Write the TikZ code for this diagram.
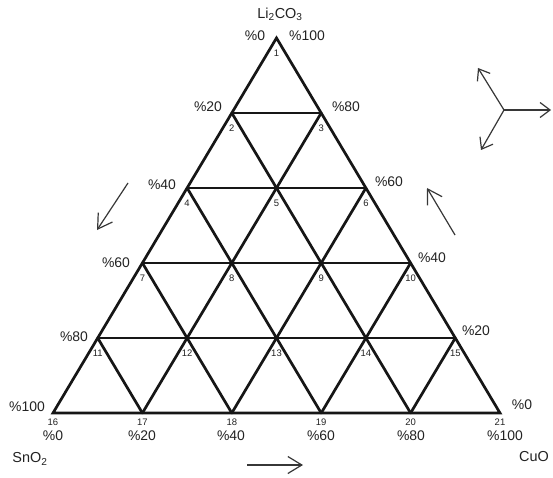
\documentclass[tikz,border=0pt]{standalone}
\usepackage{fontspec}
\setmainfont{Liberation Sans}
\definecolor{GridInk}{RGB}{22,22,22}
\definecolor{LabelInk}{RGB}{35,35,35}
\definecolor{ArrowInk}{RGB}{55,55,55}
\usetikzlibrary{arrows.meta,positioning}

\begin{document}
\begin{tikzpicture}[x=1bp,y=-1bp,
    gridline/.style={GridInk,line width=2.7bp,line cap=round},
    pct/.style={font=\fontsize{14}{16}\selectfont,text=LabelInk,inner sep=0pt},
    vnum/.style={font=\fontsize{9.5}{10}\selectfont,text=LabelInk,inner sep=0pt},
    oxide/.style={font=\fontsize{14.5}{16}\selectfont,text=LabelInk,inner sep=0pt},
    pointer/.style={ArrowInk,line width=1.2bp,-{Straight Barb[length=14bp,width=17bp]}},
    axisarrow/.style={ArrowInk,line width=1.2bp,-{Straight Barb[length=10bp,width=15bp]}}]
  \fill[white] (0,0) rectangle (553,478);
  \useasboundingbox (0,0) rectangle (553,478);
  \foreach \r in {0,...,5}
    \foreach \i in {0,...,\r}{
      \pgfmathtruncatemacro\n{\r*(\r+1)/2+\i+1}
      \coordinate (p\n) at ({276.5-44.7*\r+89.4*\i},{38+75*\r});
    }
  \foreach \k in {1,...,4}{
    \pgfmathtruncatemacro\a{16+\k}
    \pgfmathtruncatemacro\b{\k*(\k+3)/2+1}
    \pgfmathtruncatemacro\c{21-\k}
    \pgfmathtruncatemacro\d{\k*(\k+1)/2+1}
    \draw[gridline] (p\a) -- (p\b);
    \draw[gridline] (p\c) -- (p\d);
    \draw[gridline] (p\d) -- (p\b);
  }
  \draw[gridline,line join=miter] (p1) -- (p16) -- (p21) -- cycle;
  \foreach \n in {1,...,15}
    \node[vnum,below=12bp of p\n] (n\n) {\n};
  \foreach \n in {16,...,21}
    \node[vnum,below=6bp of p\n] (n\n) {\n};
  \foreach \nm/\x/\y/\t in {lt0/255/36/0,lt20/208/107/20,lt40/162/185/40,lt60/116/263/60,lt80/74/337/80,lt100/27/407/100,
      rt100/307/36/100,rt80/346/107/80,rt60/389/182/60,rt40/432/258/40,rt20/476/331/20,rt0/522/405/0,
      bt0/53/436/0,bt20/142/436/20,bt40/231/436/40,bt60/321/436/60,bt80/411/436/80,bt100/505/436/100}
    \node[pct] (\nm) at (\x,\y) {\%\t};
  \node[oxide] (li) at (280,14) {Li\textsubscript{2}CO\textsubscript{3}};
  \node[oxide] (sn) at (30,459) {SnO\textsubscript{2}};
  \node[oxide] (cu) at (534,457) {CuO};
  \coordinate (sa) at (128,183);
  \coordinate (sb) at (97,230);
  \coordinate (ca) at (455,235);
  \coordinate (cb) at (427,188);
  \coordinate (ba) at (247,465);
  \coordinate (bb) at (303,465);
  \draw[pointer] (sa) -- (sb);
  \draw[pointer] (ca) -- (cb);
  \draw[pointer] (ba) -- (bb);
  \coordinate (hub) at (504,110);
  \coordinate (hu) at (478,68);
  \coordinate (hr) at (551,110);
  \coordinate (hd) at (481,150);
  \draw[axisarrow] (hub) -- (hu);
  \draw[axisarrow] (hub) -- (hr);
  \draw[axisarrow] (hub) -- (hd);
\end{tikzpicture}
\end{document}
